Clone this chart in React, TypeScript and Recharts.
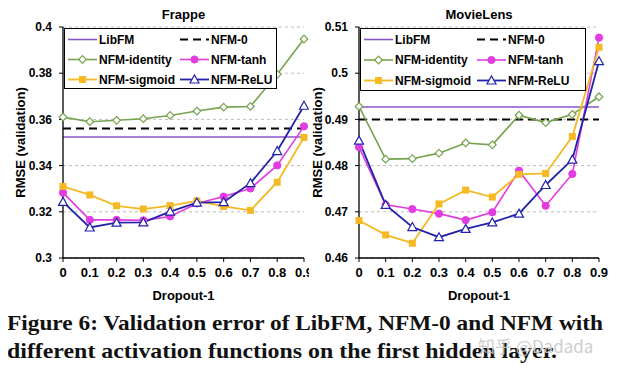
import React from 'react';
import {
  LineChart,
  Line,
  XAxis,
  YAxis,
  CartesianGrid,
  ReferenceLine,
} from 'recharts';

const dropout = [0, 0.1, 0.2, 0.3, 0.4, 0.5, 0.6, 0.7, 0.8, 0.9];

const frappeTicks = [0.3, 0.32, 0.34, 0.36, 0.38, 0.4];
const frappeTickLabels = ['0.3', '0.32', '0.34', '0.36', '0.38', '0.4'];
const frappeIdentity = [0.361, 0.359, 0.3596, 0.3603, 0.3617, 0.3636, 0.3653, 0.3656, 0.3795, 0.3948];
const frappeTanh = [0.3283, 0.3165, 0.3165, 0.3163, 0.318, 0.3236, 0.3266, 0.3301, 0.3401, 0.357];
const frappeSigmoid = [0.331, 0.3273, 0.3226, 0.3212, 0.3227, 0.3247, 0.3223, 0.3206, 0.3328, 0.3522];
const frappeRelu = [0.3243, 0.3132, 0.3153, 0.3154, 0.3201, 0.324, 0.3242, 0.3324, 0.3463, 0.3659];
const frappeLibFM = 0.3524;
const frappeNFM0 = 0.3561;

const movieTicks = [0.46, 0.47, 0.48, 0.49, 0.5, 0.51];
const movieTickLabels = ['0.46', '0.47', '0.48', '0.49', '0.5', '0.51'];
const movieIdentity = [0.4928, 0.4814, 0.4815, 0.4827, 0.4849, 0.4845, 0.4909, 0.4893, 0.4911, 0.4949];
const movieTanh = [0.484, 0.4715, 0.4706, 0.4696, 0.4682, 0.4699, 0.4789, 0.4713, 0.4782, 0.5077];
const movieSigmoid = [0.4681, 0.465, 0.4632, 0.4717, 0.4747, 0.4732, 0.4781, 0.4783, 0.4863, 0.5056];
const movieRelu = [0.4854, 0.4715, 0.4667, 0.4645, 0.4663, 0.4677, 0.4696, 0.4758, 0.4813, 0.5026];
const movieLibFM = 0.4927;
const movieNFM0 = 0.49;

const C_LIBFM = '#8a55c8';
const C_IDENT = '#76a34e';
const C_TANH = '#e23be2';
const C_SIGM = '#f4b923';
const C_RELU = '#2222aa';

const FONT = '"Liberation Sans", Arial, sans-serif';

const diamond = (cx: number, cy: number, key?: any) => (
  <path key={key} d={`M${cx},${cy - 3.8}L${cx + 3.8},${cy}L${cx},${cy + 3.8}L${cx - 3.8},${cy}Z`} fill="#fff" stroke={C_IDENT} strokeWidth={1.2} />
);
const circle = (cx: number, cy: number, key?: any) => (
  <circle key={key} cx={cx} cy={cy} r={3.6} fill={C_TANH} stroke={C_TANH} />
);
const square = (cx: number, cy: number, key?: any) => (
  <rect key={key} x={cx - 3.5} y={cy - 3.5} width={7} height={7} fill={C_SIGM} />
);
const triangle = (cx: number, cy: number, key?: any) => (
  <path key={key} d={`M${cx},${cy - 4.5}L${cx + 4.5},${cy + 3.5}L${cx - 4.5},${cy + 3.5}Z`} fill="#fff" stroke={C_RELU} strokeWidth={1.2} />
);

const dotOf = (fn: typeof diamond) => (p: any) => fn(p.cx, p.cy, `d${p.index}`);

type PanelProps = {
  title: string;
  ticks: number[];
  tickLabels: string[];
  identity: number[];
  tanh: number[];
  sigmoid: number[];
  relu: number[];
  libfm: number;
  nfm0: number;
  yWidth: number;
  width: number;
  marginRight: number;
  yLabelX: number;
};

const Panel = (p: PanelProps) => {
  const rows = dropout.map((x, i) => ({
    x,
    identity: p.identity[i],
    tanh: p.tanh[i],
    sigmoid: p.sigmoid[i],
    relu: p.relu[i],
  }));
  const domain: [number, number] = [p.ticks[0], p.ticks[p.ticks.length - 1]];
  const tickStyle = { fontFamily: FONT, fontWeight: 700, fontSize: 12, fill: '#000' };
  return (
    <LineChart width={p.width} height={306} data={rows} margin={{ top: 27, right: p.marginRight, bottom: 0, left: 0 }}>
      <text x={p.yWidth + (p.width - p.marginRight - p.yWidth) / 2} y={19} textAnchor="middle" style={{ fontFamily: FONT, fontWeight: 700, fontSize: 13 }}>
        {p.title}
      </text>
      <CartesianGrid vertical={false} strokeDasharray="3 3" stroke="#bdbdbd" />
      <XAxis
        dataKey="x"
        type="number"
        domain={[0, 0.9]}
        ticks={dropout}
        height={48}
        interval={0}
        tick={{ ...tickStyle, fontSize: 13 }}
        tickSize={4}
        tickMargin={6}
        axisLine={{ stroke: '#000', strokeWidth: 1.3 }}
        tickLine={{ stroke: '#000' }}
        label={{ value: 'Dropout-1', position: 'insideBottom', offset: 6, style: { fontFamily: FONT, fontWeight: 700, fontSize: 13, fill: '#000' } }}
      />
      <XAxis xAxisId="top" orientation="top" type="number" domain={[0, 0.9]} height={0} tick={false} tickLine={false} axisLine={{ stroke: '#777' }} />
      <YAxis
        type="number"
        domain={domain}
        ticks={p.ticks}
        width={p.yWidth}
        interval={0}
        tickFormatter={(v: number) => p.tickLabels[p.ticks.indexOf(v)] ?? String(v)}
        tick={tickStyle}
        tickSize={4}
        tickMargin={7}
        axisLine={{ stroke: '#000', strokeWidth: 1.3 }}
        tickLine={{ stroke: '#000' }}
        label={{
          content: (lp: any) => {
            const vb = lp.viewBox || { y: 27, height: 231 };
            const cy = vb.y + vb.height / 2;
            return (
              <text x={p.yLabelX} y={cy} transform={`rotate(-90, ${p.yLabelX}, ${cy})`} textAnchor="middle" dominantBaseline="central" style={{ fontFamily: FONT, fontWeight: 700, fontSize: 13, fill: '#000' }}>
                RMSE (validation)
              </text>
            );
          },
        }}
      />
      <YAxis yAxisId="right" orientation="right" type="number" domain={domain} width={0} tick={false} tickLine={false} axisLine={{ stroke: '#777' }} />
      <ReferenceLine y={p.libfm} stroke={C_LIBFM} strokeWidth={1.6} />
      <ReferenceLine y={p.nfm0} stroke="#000" strokeWidth={2} strokeDasharray="8 5" />
      <Line dataKey="identity" stroke={C_IDENT} strokeWidth={1.6} dot={dotOf(diamond)} activeDot={false} isAnimationActive={false} />
      <Line dataKey="tanh" stroke={C_TANH} strokeWidth={1.6} dot={dotOf(circle)} activeDot={false} isAnimationActive={false} />
      <Line dataKey="sigmoid" stroke={C_SIGM} strokeWidth={1.8} dot={dotOf(square)} activeDot={false} isAnimationActive={false} />
      <Line dataKey="relu" stroke={C_RELU} strokeWidth={1.8} dot={dotOf(triangle)} activeDot={false} isAnimationActive={false} />
    </LineChart>
  );
};

const legendItems = [
  { name: 'LibFM', kind: 'libfm' },
  { name: 'NFM-0', kind: 'nfm0' },
  { name: 'NFM-identity', kind: 'identity' },
  { name: 'NFM-tanh', kind: 'tanh' },
  { name: 'NFM-sigmoid', kind: 'sigmoid' },
  { name: 'NFM-ReLU', kind: 'relu' },
];

const LegendBox = ({ left, top, width, height, col2, rowGap }: { left: number; top: number; width: number; height: number; col2: number; rowGap: number }) => (
  <svg style={{ position: 'absolute', left, top }} width={width} height={height}>
    <rect x={0.5} y={0.5} width={width - 1} height={height - 1} fill="#fff" stroke="#000" />
    {legendItems.map((it, i) => {
      const col = i % 2;
      const row = Math.floor(i / 2);
      const x0 = col === 0 ? 4 : col2;
      const y = 11.5 + row * rowGap;
      const x1 = x0 + 29;
      const mid = (x0 + x1) / 2;
      let icon: React.ReactNode = null;
      if (it.kind === 'libfm') icon = <line x1={x0} x2={x1} y1={y} y2={y} stroke={C_LIBFM} strokeWidth={1.6} />;
      if (it.kind === 'nfm0') icon = <line x1={x0} x2={x1} y1={y} y2={y} stroke="#000" strokeWidth={2} strokeDasharray="8 5" />;
      if (it.kind === 'identity') icon = <g><line x1={x0} x2={x1} y1={y} y2={y} stroke={C_IDENT} strokeWidth={1.6} />{diamond(mid, y)}</g>;
      if (it.kind === 'tanh') icon = <g><line x1={x0} x2={x1} y1={y} y2={y} stroke={C_TANH} strokeWidth={1.6} />{circle(mid, y)}</g>;
      if (it.kind === 'sigmoid') icon = <g><line x1={x0} x2={x1} y1={y} y2={y} stroke={C_SIGM} strokeWidth={1.8} />{square(mid, y)}</g>;
      if (it.kind === 'relu') icon = <g><line x1={x0} x2={x1} y1={y} y2={y} stroke={C_RELU} strokeWidth={1.8} />{triangle(mid, y)}</g>;
      return (
        <g key={it.name}>
          {icon}
          <text x={x1 + 2} y={y} dominantBaseline="central" style={{ fontFamily: FONT, fontWeight: 700, fontSize: 12 }}>
            {it.name}
          </text>
        </g>
      );
    })}
  </svg>
);

export default function App() {
  return (
    <div style={{ position: 'relative', width: 619, height: 371, margin: -8, background: '#fff', overflow: 'hidden' }}>
      <div style={{ position: 'absolute', left: 0, top: 0, width: 309, height: 306, overflow: 'hidden' }}>
        <Panel
          title="Frappe"
          ticks={frappeTicks}
          tickLabels={frappeTickLabels}
          identity={frappeIdentity}
          tanh={frappeTanh}
          sigmoid={frappeSigmoid}
          relu={frappeRelu}
          libfm={frappeLibFM}
          nfm0={frappeNFM0}
          yWidth={63}
          width={309}
          marginRight={5}
          yLabelX={20}
        />
      </div>
      <LegendBox left={64} top={28} width={213} height={61} col2={116} rowGap={20} />
      <div style={{ position: 'absolute', left: 309, top: 0, width: 310, height: 306, background: '#fff' }}>
        <Panel
          title="MovieLens"
          ticks={movieTicks}
          tickLabels={movieTickLabels}
          identity={movieIdentity}
          tanh={movieTanh}
          sigmoid={movieSigmoid}
          relu={movieRelu}
          libfm={movieLibFM}
          nfm0={movieNFM0}
          yWidth={50}
          width={310}
          marginRight={20}
          yLabelX={8}
        />
      </div>
      <LegendBox left={360} top={28} width={226} height={63} col2={117} rowGap={20.5} />
      <svg style={{ position: 'absolute', left: 0, top: 300 }} width={619} height={71}>
        <text x={7} y={30} textLength={596} lengthAdjust="spacingAndGlyphs" style={{ fontFamily: '"Liberation Serif", "Times New Roman", serif', fontWeight: 700, fontSize: 21, fill: '#111' }}>
          Figure 6: Validation error of LibFM, NFM-0 and NFM with
        </text>
        <text x={7} y={58} textLength={550} lengthAdjust="spacingAndGlyphs" style={{ fontFamily: '"Liberation Serif", "Times New Roman", serif', fontWeight: 700, fontSize: 21, fill: '#111' }}>
          different activation functions on the first hidden layer.
        </text>
        <text x={478} y={53} style={{ fontFamily: '"Noto Sans CJK SC", "Noto Sans", sans-serif', fontSize: 17, fill: '#c9c9c9', opacity: 0.9 }}>
          知乎 @Dadada
        </text>
      </svg>
    </div>
  );
}
